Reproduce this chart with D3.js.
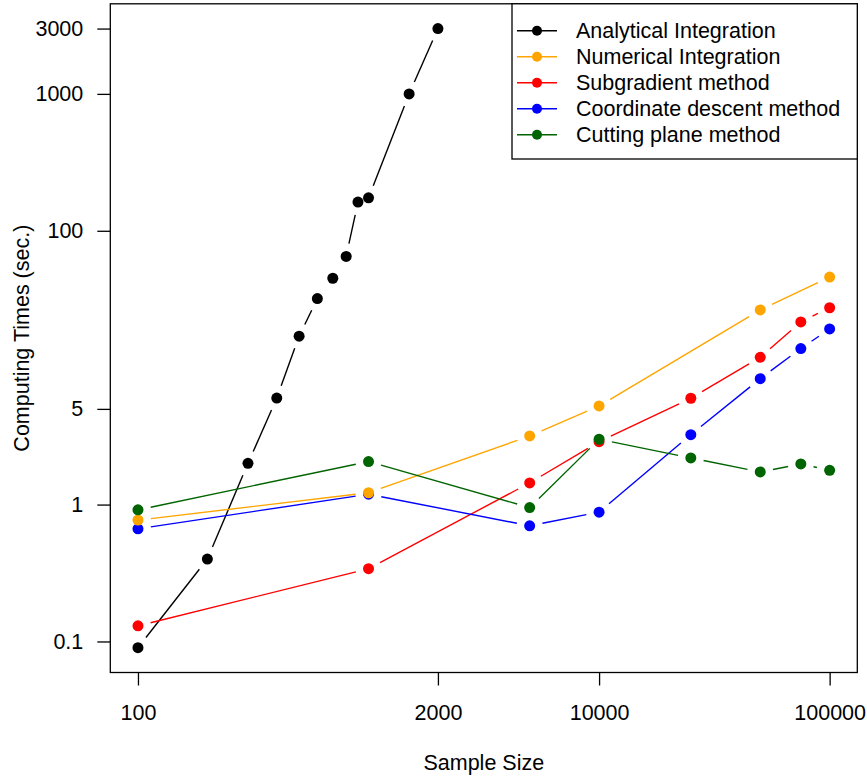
<!DOCTYPE html>
<html>
<head>
<meta charset="utf-8">
<script src="https://cdn.jsdelivr.net/npm/d3@7"></script>
<style>
  body { margin: 0; background: #fff; }
  svg text { font-family: "Liberation Sans", Arial, Helvetica, sans-serif; fill: #000; }
</style>
</head>
<body>
<svg id="chart" width="867" height="780"></svg>
<script>
// Computing time (seconds) against sample size, per method
const seriesNames = [
  "Analytical Integration",
  "Numerical Integration",
  "Subgradient method",
  "Coordinate descent method",
  "Cutting plane method"
];
const seriesColors = ["#000000", "#FFA500", "#FF0000", "#0000FF", "#006400"];

const analyticalN    = [100, 200, 300, 400, 500, 600, 700, 800, 900, 1000, 1500, 2000];
const analyticalTime = [0.09, 0.4, 2.0, 6.0, 17, 32, 45, 65, 162, 174, 1000, 3000];

const numericalN    = [100, 1000, 5000, 10000, 50000, 100000];
const numericalTime = [0.77, 1.22, 3.17, 5.25, 26.4, 45.9];

const methodN         = [100, 1000, 5000, 10000, 25000, 50000, 75000, 100000];
const subgradientTime = [0.13, 0.34, 1.44, 2.88, 5.98, 11.9, 21.6, 27.4];
const coordinateTime  = [0.665, 1.19, 0.70, 0.88, 3.24, 8.31, 13.8, 19.2];
const cuttingTime     = [0.915, 2.06, 0.951, 3.00, 2.19, 1.73, 1.98, 1.78];

const xTickValues = [100, 2000, 10000, 100000];
const yTickValues = [0.1, 1, 5, 100, 1000, 3000];

const xLabel = "Sample Size";
const yLabel = "Computing Times (sec.)";

// ---- layout ----
const plot = { left: 110.3, right: 857.3, top: 3.8, bottom: 672.5 };
const fontSize = 21.5;

const series = [
  { name: seriesNames[0], color: seriesColors[0], n: analyticalN, t: analyticalTime },
  { name: seriesNames[1], color: seriesColors[1], n: numericalN,  t: numericalTime },
  { name: seriesNames[2], color: seriesColors[2], n: methodN,     t: subgradientTime },
  { name: seriesNames[3], color: seriesColors[3], n: methodN,     t: coordinateTime },
  { name: seriesNames[4], color: seriesColors[4], n: methodN,     t: cuttingTime }
];

// log-space extent padded by 4% on each side
function paddedLogDomain(values) {
  const lo = Math.log10(d3.min(values)), hi = Math.log10(d3.max(values));
  const pad = (hi - lo) * 0.04;
  return [Math.pow(10, lo - pad), Math.pow(10, hi + pad)];
}
const allN = series.flatMap(s => s.n);
const allT = series.flatMap(s => s.t);

const x = d3.scaleLog().domain(paddedLogDomain(allN)).range([plot.left, plot.right]);
const y = d3.scaleLog().domain(paddedLogDomain(allT)).range([plot.bottom, plot.top]);

const svg = d3.select("#chart");

// ---- axes ----
const yAxis = d3.axisLeft(y).tickValues(yTickValues).tickFormat(d3.format("~g"))
  .tickSize(13).tickPadding(14);
const gy = svg.append("g").attr("transform", `translate(${plot.left},0)`).call(yAxis);
gy.select(".domain").remove();
gy.selectAll("line").attr("stroke", "#000").attr("stroke-width", 1.3);
gy.selectAll("text").attr("font-size", fontSize).attr("font-family", null);

const xAxis = d3.axisBottom(x).tickValues(xTickValues).tickFormat(d3.format("d"))
  .tickSize(13).tickPadding(19);
const gx = svg.append("g").attr("transform", `translate(0,${plot.bottom})`).call(xAxis);
gx.select(".domain").remove();
gx.selectAll("line").attr("stroke", "#000").attr("stroke-width", 1.3);
gx.selectAll("text").attr("font-size", fontSize).attr("font-family", null);

// axis titles
svg.append("text")
  .attr("x", (plot.left + plot.right) / 2).attr("y", 770)
  .attr("text-anchor", "middle").attr("font-size", fontSize)
  .text(xLabel);
svg.append("text")
  .attr("transform", `translate(28.5,${(plot.top + plot.bottom) / 2}) rotate(-90)`)
  .attr("text-anchor", "middle").attr("font-size", fontSize)
  .text(yLabel);

// ---- series: segments broken around each point, then the points ----
const gap = 13;
const radius = 5.5;
const drawOrder = [0, 2, 3, 1, 4];

drawOrder.forEach(i => {
  const s = series[i];
  const pts = s.n.map((n, k) => [x(n), y(s.t[k])]);
  const segs = [];
  for (let k = 0; k < pts.length - 1; k++) {
    const [x0, y0] = pts[k], [x1, y1] = pts[k + 1];
    const d = Math.hypot(x1 - x0, y1 - y0);
    if (d <= 2 * gap) continue;
    const ux = (x1 - x0) / d, uy = (y1 - y0) / d;
    segs.push([x0 + ux * gap, y0 + uy * gap, x1 - ux * gap, y1 - uy * gap]);
  }
  const g = svg.append("g");
  g.selectAll("line").data(segs).join("line")
    .attr("x1", d => d[0]).attr("y1", d => d[1])
    .attr("x2", d => d[2]).attr("y2", d => d[3])
    .attr("stroke", s.color).attr("stroke-width", 1.4);
  g.selectAll("circle").data(pts).join("circle")
    .attr("cx", d => d[0]).attr("cy", d => d[1]).attr("r", radius)
    .attr("fill", s.color);
});

// ---- plot frame ----
svg.append("rect")
  .attr("x", plot.left).attr("y", plot.top)
  .attr("width", plot.right - plot.left).attr("height", plot.bottom - plot.top)
  .attr("fill", "none").attr("stroke", "#000").attr("stroke-width", 1.3);

// ---- legend (top right) ----
const legend = { left: 512, top: plot.top, bottom: 159, rowY0: 30.7, rowStep: 26 };
svg.append("rect")
  .attr("x", legend.left).attr("y", legend.top)
  .attr("width", plot.right - legend.left).attr("height", legend.bottom - legend.top)
  .attr("fill", "#fff").attr("stroke", "#000").attr("stroke-width", 1.3);
const rows = svg.append("g").selectAll("g").data(series).join("g")
  .attr("transform", (d, i) => `translate(0,${legend.rowY0 + i * legend.rowStep})`);
rows.append("line").attr("x1", 517).attr("x2", 557).attr("y1", 0).attr("y2", 0)
  .attr("stroke", d => d.color).attr("stroke-width", 1.4);
rows.append("circle").attr("cx", 537).attr("cy", 0).attr("r", 5)
  .attr("fill", d => d.color);
rows.append("text").attr("x", 576).attr("y", 0).attr("dy", "0.35em")
  .attr("font-size", fontSize).text(d => d.name);
</script>
</body>
</html>
